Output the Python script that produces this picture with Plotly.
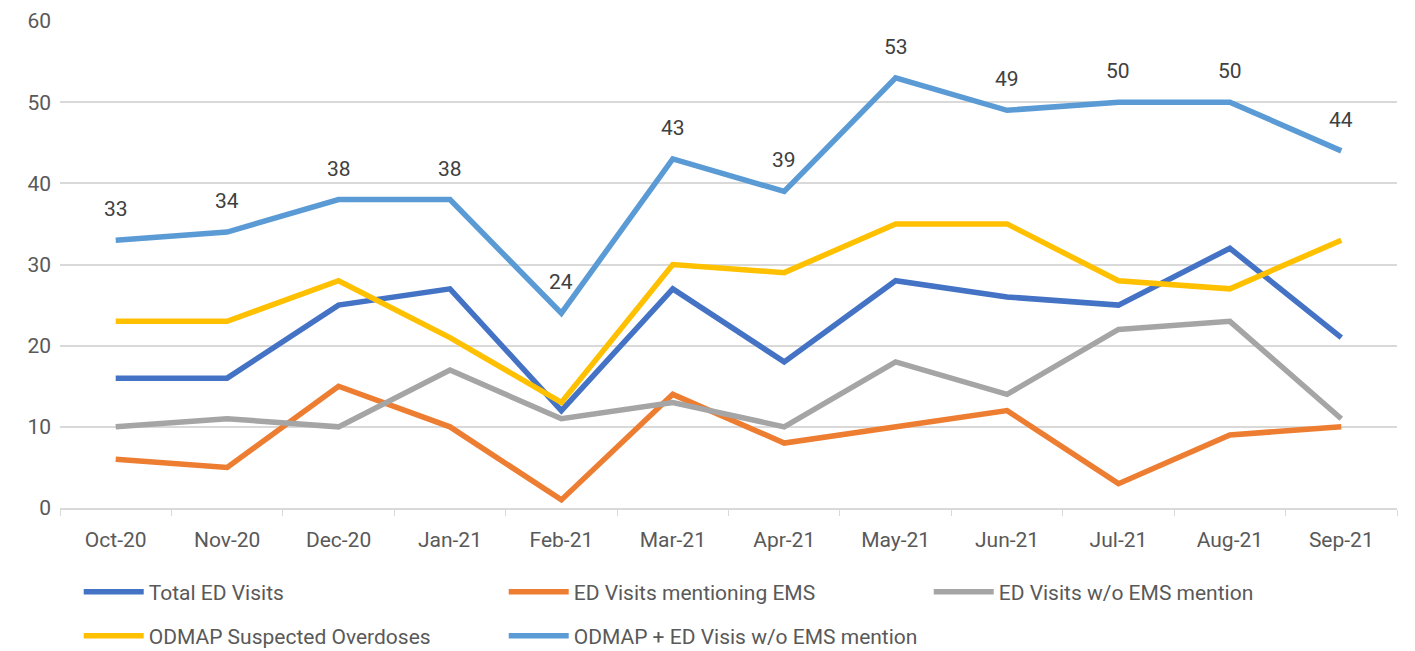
import plotly.graph_objects as go

months = ["Oct-20", "Nov-20", "Dec-20", "Jan-21", "Feb-21", "Mar-21",
          "Apr-21", "May-21", "Jun-21", "Jul-21", "Aug-21", "Sep-21"]
total_ed = [16, 16, 25, 27, 12, 27, 18, 28, 26, 25, 32, 21]
ed_ems = [6, 5, 15, 10, 1, 14, 8, 10, 12, 3, 9, 10]
ed_no_ems = [10, 11, 10, 17, 11, 13, 10, 18, 14, 22, 23, 11]
odmap = [23, 23, 28, 21, 13, 30, 29, 35, 35, 28, 27, 33]
odmap_plus = [33, 34, 38, 38, 24, 43, 39, 53, 49, 50, 50, 44]

names = ["Total ED Visits", "ED Visits mentioning EMS", "ED Visits w/o EMS mention",
         "ODMAP Suspected Overdoses", "ODMAP + ED Visis w/o EMS mention"]
colors = ["#4472C4", "#ED7D31", "#A5A5A5", "#FFC000", "#5B9BD5"]
series = [total_ed, ed_ems, ed_no_ems, odmap, odmap_plus]
legend_ids = ["legend", "legend", "legend", "legend2", "legend2"]

FONT = "Roboto, sans-serif"
GRAY = "#595959"

fig = go.Figure()
for n, c, s, lg in zip(names, colors, series, legend_ids):
    fig.add_trace(go.Scatter(
        x=months, y=s, name=n, mode="lines",
        line=dict(color=c, width=5.5),
        legend=lg,
    ))

# data labels for the last series
for m, v in zip(months, odmap_plus):
    fig.add_annotation(x=m, y=v, text=str(v), showarrow=False, yshift=31,
                       font=dict(family=FONT, size=21, color="#404040"))

leg_common = dict(orientation="h", xanchor="left", yanchor="middle",
                  entrywidth=350, entrywidthmode="pixels", itemwidth=60,
                  font=dict(family=FONT, size=21, color=GRAY),
                  bgcolor="rgba(0,0,0,0)")

fig.update_layout(
    width=1407, height=643,
    margin=dict(l=52, r=18, t=13, b=143, autoexpand=False),
    paper_bgcolor="white", plot_bgcolor="white",
    font=dict(family=FONT, size=21, color=GRAY),
    showlegend=True,
    legend=dict(x=0.014, y=-0.1725, **leg_common),
    legend2=dict(x=0.014, y=-0.263, **leg_common),
    xaxis=dict(range=[-0.5, 11.5], showgrid=False, showline=True, linecolor="#D9D9D9",
               linewidth=1.5, ticks="outside", tickson="boundaries", ticklen=6,
               tickcolor="#D9D9D9", ticklabelstandoff=12,
               tickfont=dict(family=FONT, size=21, color=GRAY)),
    yaxis=dict(range=[0, 60], dtick=10, showgrid=True, gridcolor="#D9D9D9", gridwidth=1.5,
               zeroline=False, showline=False, ticks="", ticklabelstandoff=8,
               tickfont=dict(family=FONT, size=21, color=GRAY)),
)

fig.write_html("out.html")
